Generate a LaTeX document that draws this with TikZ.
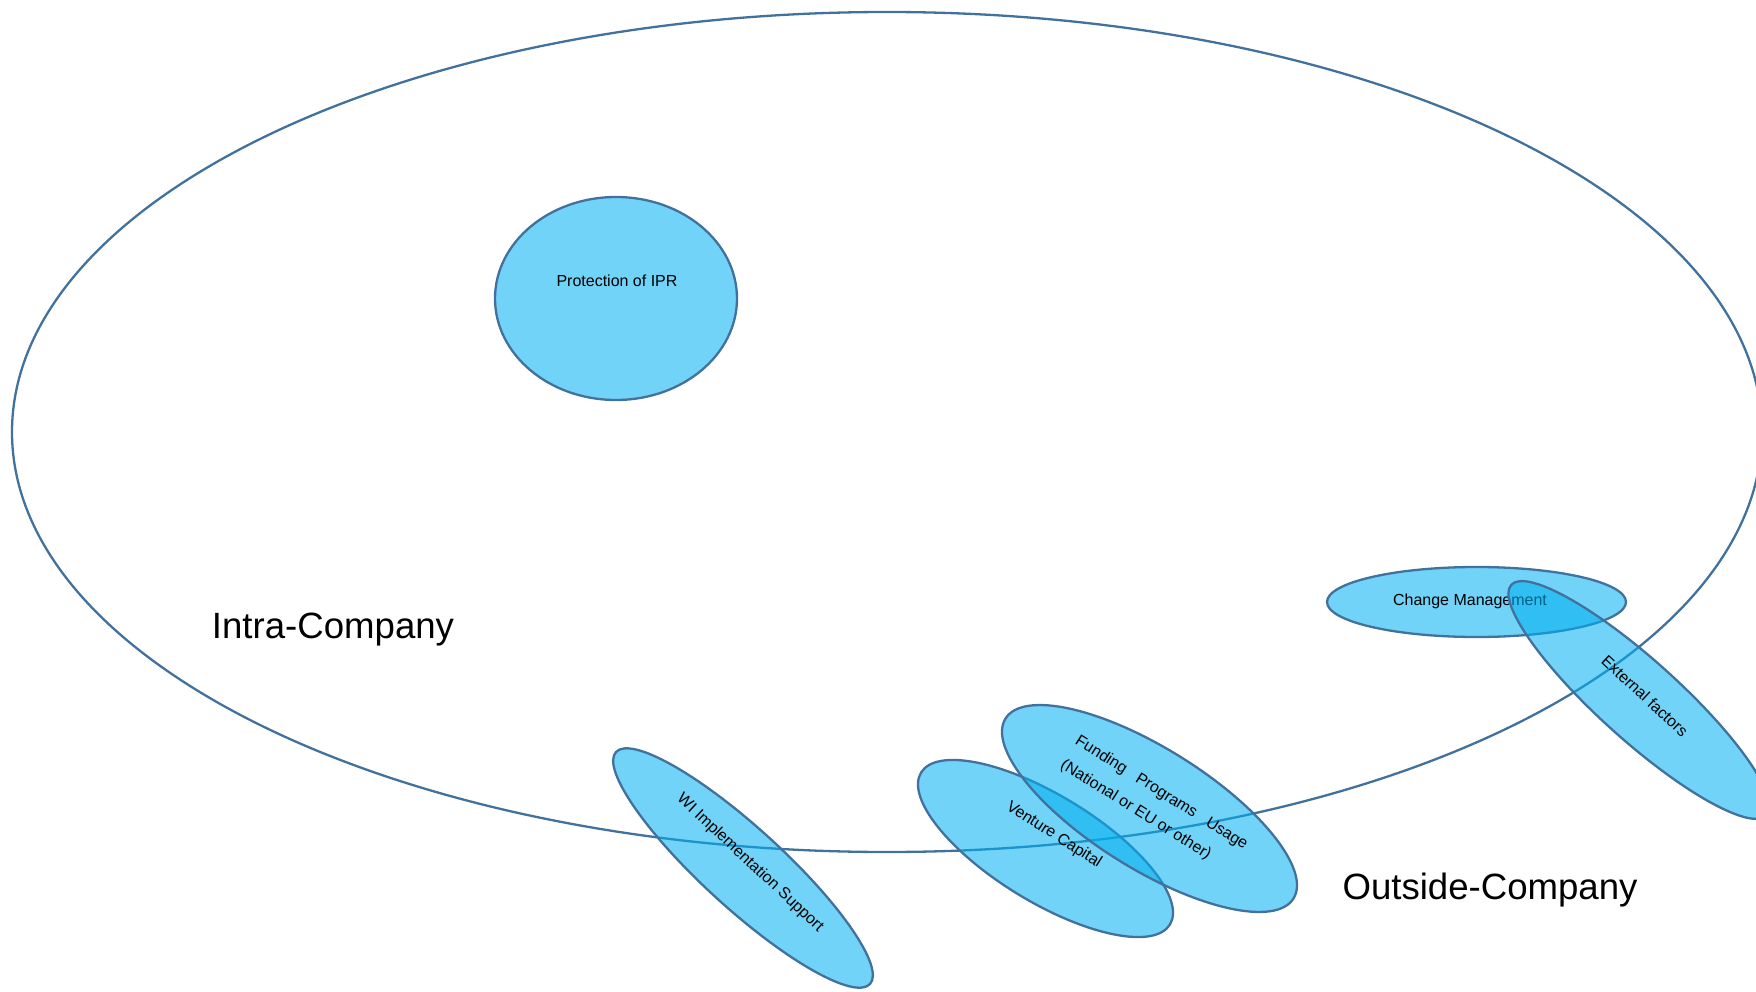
\documentclass[tikz,border=0pt]{standalone}
\usepackage{fontspec}
\setmainfont{Liberation Sans}
\usetikzlibrary{shapes.geometric}
\definecolor{edgec}{HTML}{41719C}
\definecolor{fillc}{HTML}{00B0F0}
\tikzset{
  outline/.style={ellipse, draw=edgec, line width=2.3pt, inner sep=0pt, outer sep=0pt},
  blob/.style={outline, fill=fillc, fill opacity=0.56},
  smalltext/.style={font=\fontsize{16}{18}\selectfont, inner sep=0pt, text=black},
  bigtext/.style={font=\fontsize{36.6}{40}\selectfont, inner sep=0pt, text=black},
}
\begin{document}
\begin{tikzpicture}[x=1pt,y=-1pt]
\useasboundingbox (0,0) rectangle (1756,992);
\clip (0,0) rectangle (1756,992);
% large ellipse
\node[outline, minimum width=1750pt, minimum height=840pt] (company) at (887,432) {};
% Protection of IPR
\node[blob, minimum width=242pt, minimum height=203pt] (ipr) at (616,298.5) {};
\node[smalltext, anchor=base] (iprtext) at (617,287) {Protection of IPR};
% Change Management
\node[blob, minimum width=299pt, minimum height=70pt] (change) at (1476.5,602) {};
\node[smalltext, anchor=base] (changetext) at (1470,605) {Change Management};
% External factors
\node[blob, minimum width=344pt, minimum height=80pt, rotate=-42] (external) at (1639,700) {};
\node[smalltext, rotate=-43] (externaltext) at (1645,696) {External factors};
% WI Implementation Support
\node[blob, minimum width=344pt, minimum height=80pt, rotate=-42.4] (wi) at (743,868) {};
\node[smalltext, rotate=-43] (witext) at (750,863) {WI Implementation Support};
% Venture Capital
\node[blob, minimum width=291.6pt, minimum height=106.6pt, rotate=-31.4] (venture) at (1045.5,848.5) {};
\node[smalltext, rotate=-32.5] (venturetext) at (1054,835) {Venture Capital};
% Funding Programs Usage
\node[blob, minimum width=339.6pt, minimum height=120.4pt, rotate=-32] (funding) at (1149.5,808.5) {};
\node[smalltext, font=\fontsize{16}{28}\selectfont, align=left, rotate=-32] (fundingtext) at (1154,805)
  {\makebox[200pt][s]{Funding Programs Usage}\\(National or EU or other)};
% region labels
\node[bigtext, anchor=base] (intralabel) at (333,638) {Intra-Company};
\node[bigtext, anchor=base] (outsidelabel) at (1490,899) {Outside-Company};
\end{tikzpicture}
\end{document}
